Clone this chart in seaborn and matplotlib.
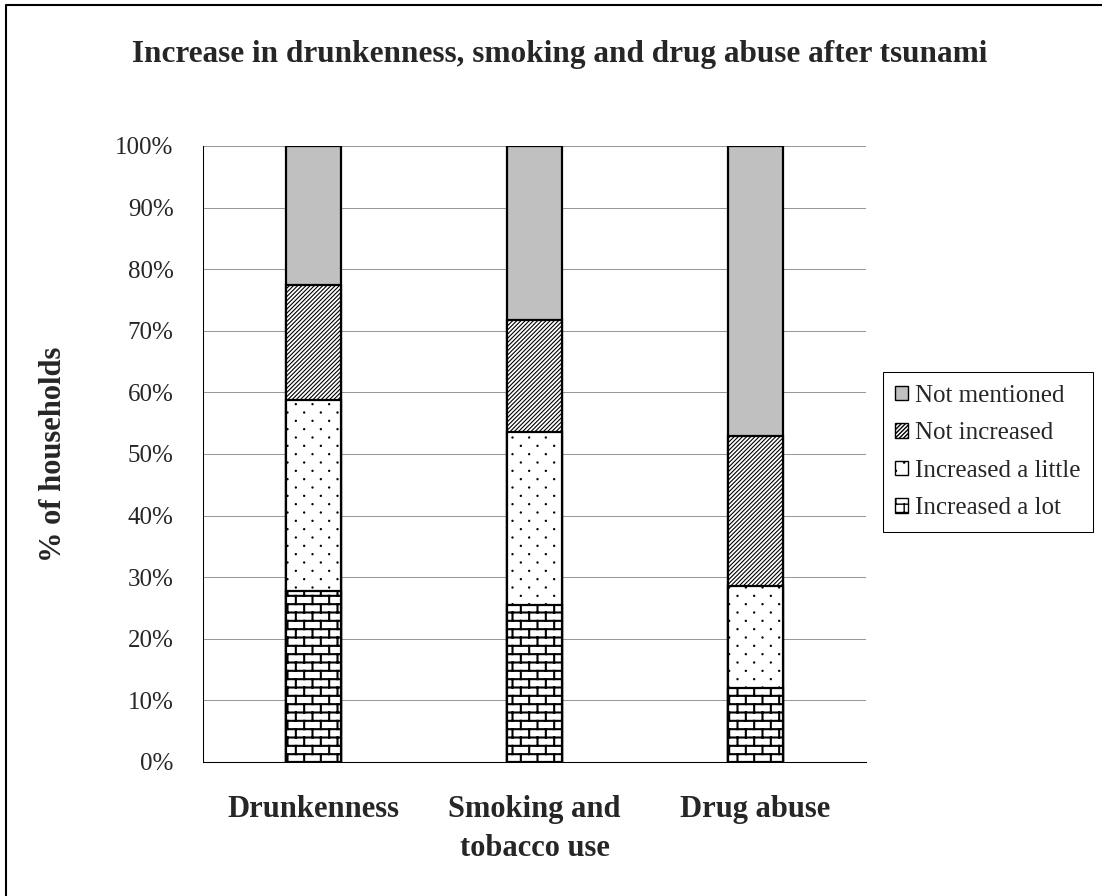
import warnings
import numpy as np
import pandas as pd
import matplotlib
matplotlib.use("Agg")
import matplotlib.pyplot as plt
import matplotlib.hatch as mhatch
from matplotlib.path import Path
from matplotlib.patches import Patch
from matplotlib.lines import Line2D
import seaborn as sns

warnings.filterwarnings("ignore")

# ---- data -------------------------------------------------------------
categories = ["Drunkenness", "Smoking and\ntobacco use", "Drug abuse"]
series_names = ["Increased a lot", "Increased a little", "Not increased", "Not mentioned"]
increased_a_lot = [27.8, 25.4, 12.0]
increased_a_little = [30.9, 28.2, 16.5]
not_increased = [18.8, 18.2, 24.4]
not_mentioned = [22.5, 28.2, 47.1]
y_ticks = list(range(0, 101, 10))
y_tick_labels = [f"{v}%" for v in y_ticks]
title = "Increase in drunkenness, smoking and drug abuse after tsunami"
y_label = "% of households"


# ---- custom hatch patterns: brick wall ('b') and staggered dots ('p') ----
class BrickHatch(mhatch.HatchPatternBase):
    rows, cols = 12, 6

    def __init__(self, hatch, density):
        self.on = "b" in hatch
        self.num_vertices = (2 * self.rows + 2 * self.rows * self.cols + 2 * self.cols) if self.on else 0

    def set_vertices_and_codes(self, vertices, codes):
        pts = []
        h = 1.0 / self.rows
        for i in range(self.rows):
            y = (i + 0.5) * h
            pts += [(0.0, y), (1.0, y)]
        for i in range(self.rows):
            y0 = (i + 0.5) * h
            y1 = y0 + h
            off = 0.25 if i % 2 == 0 else 0.75
            for j in range(self.cols):
                x = (j + off) / self.cols
                if y1 <= 1.0:
                    pts += [(x, y0), (x, y1)]
                else:
                    pts += [(x, y0), (x, 1.0), (x, 0.0), (x, y1 - 1.0)]
        vertices[:] = np.array(pts)
        codes[0::2] = Path.MOVETO
        codes[1::2] = Path.LINETO


class DotHatch(mhatch.HatchPatternBase):
    rows, cols, radius = 12, 6, 0.006

    def __init__(self, hatch, density):
        self.on = "p" in hatch
        self.circle = Path.unit_circle()
        n = len(self.circle.vertices)
        self.num_vertices = self.rows * self.cols * n if self.on else 0

    def set_vertices_and_codes(self, vertices, codes):
        cv = self.circle.vertices * self.radius
        cc = self.circle.codes
        n = len(cv)
        k = 0
        for i in range(self.rows):
            y = (i + 0.5) / self.rows
            off = 0.25 if i % 2 == 0 else 0.75
            for j in range(self.cols):
                x = (j + off) / self.cols
                vertices[k:k + n] = cv + (x, y)
                codes[k:k + n] = cc
                k += n


mhatch._hatch_types.append(BrickHatch)
mhatch._hatch_types.append(DotHatch)

# ---- style ------------------------------------------------------------
sns.set_style("white")
plt.rcParams["font.family"] = ["Liberation Serif", "DejaVu Serif"]

face_colors = ["white", "white", "white", "#c0c0c0"]
hatches = ["b", "p", "////////", None]
hatch_widths = [1.5, 0.8, 0.8, 1.0]

fig = plt.figure(figsize=(11.02, 8.96), dpi=100)
ax = fig.add_axes([0.1842, 0.1496, 0.6016, 0.6875])

layers = np.array([increased_a_lot, increased_a_little, not_increased, not_mentioned])
tops = np.cumsum(layers, axis=0)

# stacked bars: draw cumulative tops from the highest layer down
for k in reversed(range(len(series_names))):
    df = pd.DataFrame({"category": categories, "value": tops[k]})
    with plt.rc_context({"hatch.linewidth": hatch_widths[k]}):
        kw = dict(hatch=hatches[k]) if hatches[k] else {}
        sns.barplot(data=df, x="category", y="value", color=face_colors[k],
                    saturation=1, width=0.25, edgecolor="black", linewidth=1.6,
                    errorbar=None, ax=ax, zorder=3, **kw)
    n_new = len(categories)
    for p in ax.patches[-n_new:]:
        if hasattr(p, "set_hatch_linewidth"):
            p.set_hatch_linewidth(hatch_widths[k])

# ---- axes -------------------------------------------------------------
ax.set_ylim(0, 100)
ax.set_xlim(-0.5, 2.5)
ax.set_yticks(y_ticks)
ax.set_yticklabels(y_tick_labels)
ax.set_xticks([-0.5, 0.5, 1.5, 2.5])
ax.set_xticklabels([])
ax.set_xticks([0, 1, 2], minor=True)
ax.set_xticklabels(categories, minor=True, fontsize=22, fontweight="bold")
for t in ax.get_xticklabels(minor=True):
    t.set_linespacing(1.45)
ax.set_xlabel("")
ax.set_ylabel(y_label, fontsize=22, fontweight="bold")
ax.yaxis.set_label_coords(-0.204, 0.5)

ax.tick_params(axis="y", which="major", direction="out", length=7.2, width=0.75,
               color="black", labelsize=18, pad=14)
ax.tick_params(axis="x", which="major", direction="out", length=7.2, width=0.75, color="black")
ax.tick_params(axis="x", which="minor", length=0, pad=24)

ax.yaxis.grid(True, color="#999999", linewidth=0.75)
ax.xaxis.grid(False)
ax.set_axisbelow(True)
for side in ["top", "right"]:
    ax.spines[side].set_visible(False)
for side in ["left", "bottom"]:
    ax.spines[side].set_color("black")
    ax.spines[side].set_linewidth(0.75)

# ---- legend -----------------------------------------------------------
handles = []
for k in reversed(range(len(series_names))):
    handles.append(Patch(facecolor=face_colors[k], edgecolor="black", linewidth=1.0,
                         hatch=hatches[k], label=series_names[k]))
leg = fig.legend(handles=handles, loc="center left", bbox_to_anchor=(0.801, 0.4955),
                 frameon=True, fancybox=False, edgecolor="black", framealpha=1,
                 fontsize=18, handlelength=0.5, handleheight=0.5, handletextpad=0.3,
                 labelspacing=0.62, borderpad=0.5, borderaxespad=0)
leg.get_frame().set_linewidth(0.75)

# ---- title and frame --------------------------------------------------
fig.text(0.508, 0.955, title, ha="center", va="top", fontsize=22.5, fontweight="bold")
fig.add_artist(Line2D([5.5 / 1102, 5.5 / 1102, 1.0], [0.0, 1 - 5.5 / 896, 1 - 5.5 / 896],
                      transform=fig.transFigure, color="black", linewidth=1.5))

fig.savefig("out.png", dpi=100)
